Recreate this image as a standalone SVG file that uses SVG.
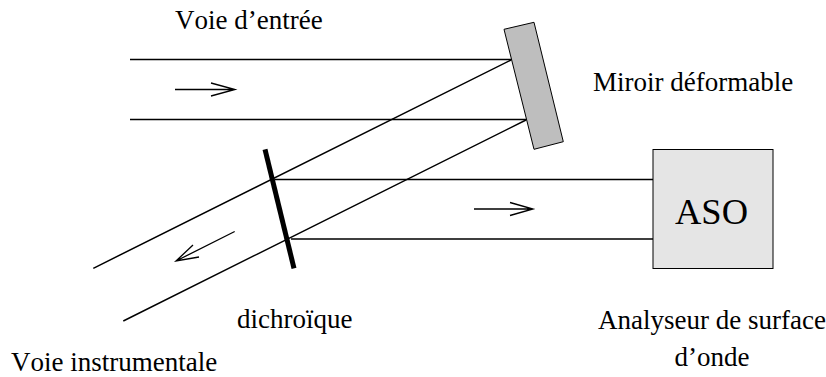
<svg xmlns="http://www.w3.org/2000/svg" width="826" height="377" viewBox="0 0 826 377">
<style>
.l{fill:none;stroke:#000;stroke-width:1.5}
.a{fill:none;stroke:#000;stroke-width:1.3}
text{font-family:"Liberation Serif","Times New Roman",serif;fill:#000;font-size:27px;font-kerning:none}
</style>
<rect width="826" height="377" fill="#fff"/>
<g id="connectors">
<path class="l" d="M130 59.5H512M130 119.5H527"/>
<path class="l" d="M511 60L93.3 268.3M526 120L123.3 321"/>
<path class="l" d="M275 179.5H653M291 239H653"/>
<path class="a" d="M175 89.5H235M211 83L235 89.5L211 96"/>
<path class="a" d="M474 209H533M510 202.5L533 209L510 215.5"/>
<path class="a" d="M234.7 231.5L176 261M193 245L176 261L199 257"/>
</g>
<g id="miroir">
<polygon points="504,29.3 534,22.3 563.3,141.7 534,149.3" fill="#bebebe" stroke="#000" stroke-width="1"/>
<text x="593" y="91">Miroir déformable</text>
</g>
<g id="dichroique">
<line x1="265" y1="149.3" x2="294" y2="268.3" stroke="#000" stroke-width="5"/>
<text x="237" y="328">dichroïque</text>
</g>
<g id="aso">
<rect x="653" y="149.5" width="120" height="119" fill="#e5e5e5" stroke="#000" stroke-width="1"/>
<text x="711.5" y="224" text-anchor="middle" style="font-size:36.5px">ASO</text>
</g>
<g id="labels">
<text x="175" y="29">Voie d’entrée</text>
<text x="712" y="329" text-anchor="middle">Analyseur de surface</text>
<text x="712" y="366" text-anchor="middle">d’onde</text>
<text x="11" y="371">Voie instrumentale</text>
</g>
</svg>
